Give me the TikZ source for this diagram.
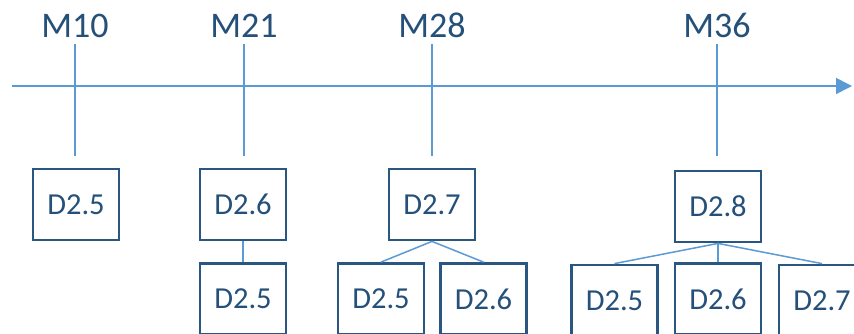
\documentclass[tikz,border=0pt]{standalone}
\usepackage{fontspec}
\setmainfont{Carlito}
\usetikzlibrary{arrows.meta}
\definecolor{axisblue}{HTML}{5B9BD5}
\definecolor{boxblue}{HTML}{2A5782}
\definecolor{txtblue}{HTML}{24507A}
\tikzset{
  dbox/.style={draw=boxblue, line width=2.8pt, minimum width=86pt, minimum height=71pt,
    inner sep=0pt, text=txtblue, font=\fontsize{30.5}{32}\selectfont},
  mlabel/.style={text=txtblue, font=\fontsize{36}{38}\selectfont, inner sep=0pt, anchor=base},
  conn/.style={draw=axisblue, line width=1.5pt},
  axisline/.style={draw=axisblue, line width=1.6pt, -{Triangle[length=16pt,width=16pt]}}
}
\begin{document}
\begin{tikzpicture}[x=1pt,y=-1pt]
\clip (0,0) rectangle (854,333);
\fill[white] (0,0) rectangle (854,333);
% axis
\coordinate (axL) at (12,86);
\coordinate (axR) at (852,86);
\draw[axisline] (axL) -- (axR);
% milestone labels
\node[mlabel] (m10) at (75,37) {M10};
\node[mlabel] (m21) at (244,37) {M21};
\node[mlabel] (m28) at (432,37) {M28};
\node[mlabel] (m36) at (717,37) {M36};
% tick coordinates
\coordinate (t1a) at (75,44);  \coordinate (t1b) at (75,156);
\coordinate (t2a) at (244,44); \coordinate (t2b) at (244,156);
\coordinate (t3a) at (432,44); \coordinate (t3b) at (432,156);
\coordinate (t4a) at (717,44); \coordinate (t4b) at (717,156);
\draw[conn] (t1a) -- (t1b);
\draw[conn] (t2a) -- (t2b);
\draw[conn] (t3a) -- (t3b);
\draw[conn] (t4a) -- (t4b);
% boxes
\node[dbox] (b1) at (76,204.5) {D2.5};
\node[dbox] (b2) at (243,204.5) {D2.6};
\node[dbox] (b2a) at (243,299) {D2.5};
\node[dbox] (b3) at (432,204.5) {D2.7};
\node[dbox] (b3a) at (381,299) {D2.5};
\node[dbox] (b3b) at (483.5,299) {D2.6};
\node[dbox] (b4) at (718,206.5) {D2.8};
\node[dbox] (b4a) at (614.5,300.5) {D2.5};
\node[dbox] (b4b) at (718,299) {D2.6};
\node[dbox] (b4c) at (822,300.5) {D2.7};
% connectors
\draw[conn] (b2.south) -- (b2a.north);
\draw[conn] (b3.south) -- (b3a.north);
\draw[conn] (b3.south) -- (b3b.north);
\draw[conn] (b4.south) -- (b4a.north);
\draw[conn] (b4.south) -- (b4b.north);
\draw[conn] (b4.south) -- (b4c.north);
\end{tikzpicture}
\end{document}
